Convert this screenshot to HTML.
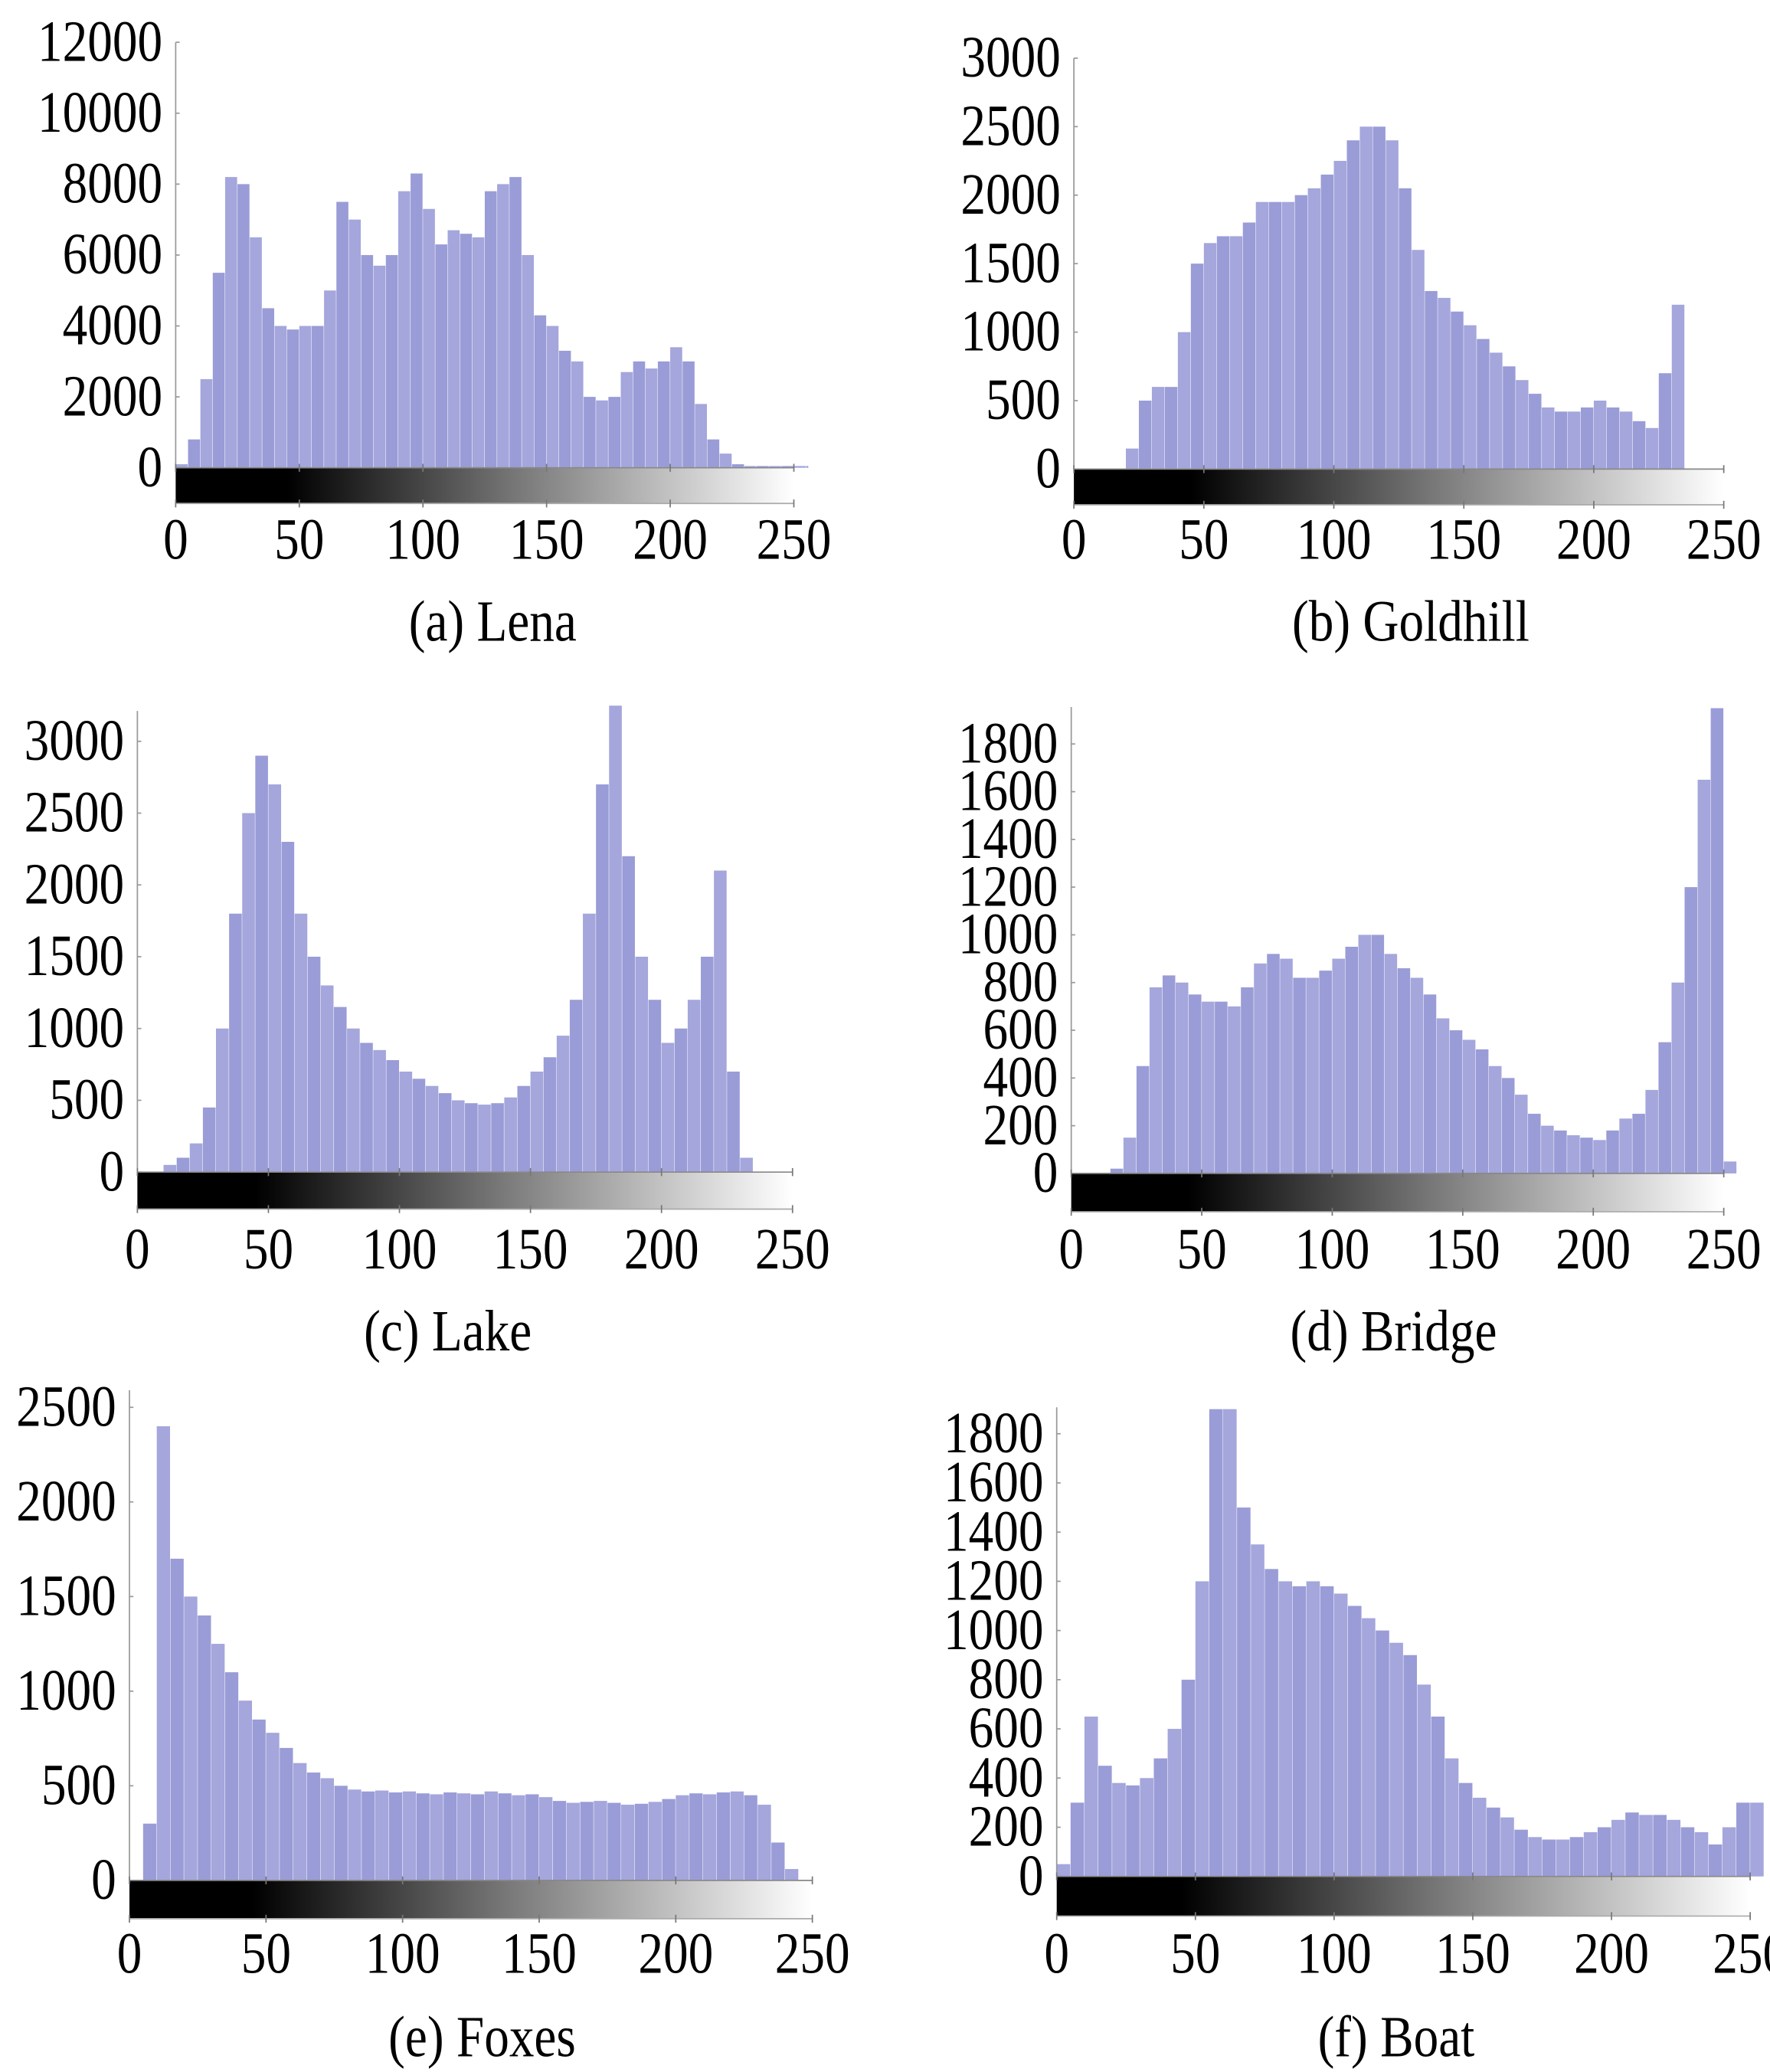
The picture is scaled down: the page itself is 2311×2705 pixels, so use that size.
<!DOCTYPE html>
<html><head><meta charset="utf-8"><style>
html,body{margin:0;padding:0;background:#fff;}
svg{display:block;}
text{font-family:"Liberation Serif",serif;fill:#000;}
</style></head>
<body>
<svg id="fig" width="2311" height="2705" viewBox="0 0 1340 1568" preserveAspectRatio="none" xmlns="http://www.w3.org/2000/svg">
<defs>
<linearGradient id="gray" x1="0" x2="1" y1="0" y2="0">
<stop offset="0" stop-color="#000"/><stop offset="0.18" stop-color="#000"/><stop offset="0.55" stop-color="#777"/><stop offset="1" stop-color="#fff"/>
</linearGradient>
</defs>
</svg>
<script>
// bins of width 5 gray levels: [0,5),[5,10),...,[255,256)
const binWidth = 5;
const lenaValues = [100,800,2500,5500,8200,8000,6500,4500,4000,3900,4000,4000,5000,7500,7000,6000,5700,6000,7800,8300,7300,6300,6700,6600,6500,7800,8000,8200,6000,4300,4000,3300,3000,2000,1900,2000,2700,3000,2800,3000,3400,3000,1800,800,400,100,50,50,50,50,50,50];
const goldhillValues = [0,0,0,0,150,500,600,600,1000,1500,1650,1700,1700,1800,1950,1950,1950,2000,2050,2150,2250,2400,2500,2500,2400,2050,1600,1300,1250,1150,1050,950,850,750,650,550,450,420,420,450,500,450,420,350,300,700,1200,0,0,0,0,0];
const lakeValues = [0,0,50,100,200,450,1000,1800,2500,2900,2700,2300,1800,1500,1300,1150,1000,900,850,780,700,650,600,550,500,480,470,480,520,600,700,800,950,1200,1800,2700,3250,2200,1500,1200,900,1000,1200,1500,2100,700,100,0,0,0,0,0];
const bridgeValues = [0,0,0,20,150,450,780,830,800,750,720,720,700,780,880,920,900,820,820,850,900,950,1000,1000,920,860,820,750,650,600,560,520,450,400,330,250,200,180,160,150,140,180,230,250,350,550,800,1200,1650,1950,50,0];
const foxesValues = [0,300,2400,1700,1500,1400,1250,1100,950,850,780,700,620,570,540,500,480,470,475,465,470,460,455,465,460,455,470,460,450,455,440,420,410,415,420,410,400,405,415,430,450,460,455,465,470,450,400,200,60,0,0,0];
const boatValues = [50,300,650,450,380,370,400,480,600,800,1200,1900,1900,1500,1350,1250,1200,1180,1200,1180,1150,1100,1050,1000,950,900,780,650,480,380,320,280,240,190,160,150,150,160,180,200,230,260,250,250,230,200,180,130,200,300,300,0];
const xTicks = [0,50,100,150,200,250];
const lenaTicks = [0,2000,4000,6000,8000,10000,12000];
const goldhillTicks = [0,500,1000,1500,2000,2500,3000];
const lakeTicks = [0,500,1000,1500,2000,2500,3000];
const bridgeTicks = [0,200,400,600,800,1000,1200,1400,1600,1800];
const foxesTicks = [0,500,1000,1500,2000,2500];
const boatTicks = [0,200,400,600,800,1000,1200,1400,1600,1800];
const captions = ["(a) Lena","(b) Goldhill","(c) Lake","(d) Bridge","(e) Foxes","(f) Boat"];

// layout (preview-space pixels)
const panels = [
 {name:"lena", data:lenaValues, ticks:lenaTicks, yMax:12000, x0:133,x1:601,yb:354,yt:32,axTop:32,cap:[373,470],gh:27,xl:408},
 {name:"goldhill", data:goldhillValues, ticks:goldhillTicks, yMax:3000, x0:813,x1:1305,yb:355,yt:44,axTop:44,cap:[1068,470],gh:27,xl:408},
 {name:"lake", data:lakeValues, ticks:lakeTicks, yMax:3000, x0:104,x1:600,yb:887,yt:561,axTop:538,cap:[339,1007],gh:28,xl:945},
 {name:"bridge", data:bridgeValues, ticks:bridgeTicks, yMax:1800, x0:811,x1:1305,yb:888,yt:563,axTop:535,cap:[1055,1007],gh:29,xl:945},
 {name:"foxes", data:foxesValues, ticks:foxesTicks, yMax:2500, x0:98,x1:615,yb:1423,yt:1065,axTop:1052,cap:[365,1541],gh:29,xl:1478},
 {name:"boat", data:boatValues, ticks:boatTicks, yMax:1800, x0:800,x1:1325,yb:1420,yt:1085,axTop:1065,cap:[1057,1541],gh:30,xl:1478}
];
const NS="http://www.w3.org/2000/svg";
const svg=document.getElementById('fig');
function mk(tag,attrs,parent){const e=document.createElementNS(NS,tag);for(const k in attrs)e.setAttribute(k,attrs[k]);parent.appendChild(e);return e;}
function txt(parent,x,y,anchor,size,str){
  const t=mk('text',{x:0,y:0,'text-anchor':anchor,'font-size':size,transform:'translate('+x+','+y+') scale(0.86,1)'},parent);
  t.textContent=str;
  return t;
}
panels.forEach((p,pi)=>{
  const g=mk('g',{},svg);
  
  
  const xs=v=>p.x0+(v/250)*(p.x1-p.x0);
  const ys=v=>p.yb-(v/p.yMax)*(p.yb-p.yt);
  p.data.forEach((v,i)=>{
    if(v<=0)return;
    const a=xs(i*binWidth), b=xs(Math.min(256,(i+1)*binWidth));
    let top=Math.max(ys(v),p.axTop-4);
    const r=mk('rect',{x:a,y:top,width:Math.max(0.5,b-a-0.3),height:p.yb-top,fill:(i%2?'#9a9cd7':'#a4a6dc')},g);
    
    
  });
  const ax=mk('line',{x1:p.x0,x2:p.x0,y1:p.axTop,y2:p.yb,stroke:'#999','stroke-width':1},g);
  
  
  p.ticks.forEach(t=>{
    mk('line',{x1:p.x0,x2:p.x0+3,y1:ys(t),y2:ys(t),stroke:'#999','stroke-width':1},g);
    const tx=txt(g,p.x0-10,ys(t)+14,'end',44,t);
    
    
  });
  const gr=mk('rect',{x:p.x0,y:p.yb,width:p.x1-p.x0,height:p.gh,fill:'url(#gray)'},g);
  
  
  mk('line',{x1:p.x0,x2:p.x1,y1:p.yb+p.gh,y2:p.yb+p.gh,stroke:'#aaa','stroke-width':1},g);
  mk('line',{x1:p.x0,x2:p.x1,y1:p.yb,y2:p.yb,stroke:'#888','stroke-width':1},g);
  xTicks.forEach(t=>{
    mk('line',{x1:xs(t),x2:xs(t),y1:p.yb-3,y2:p.yb+3,stroke:'#777','stroke-width':1},g);
    mk('line',{x1:xs(t),x2:xs(t),y1:p.yb+p.gh-3,y2:p.yb+p.gh+3,stroke:'#777','stroke-width':1},g);
    const tx=txt(g,xs(t),p.xl+15,'middle',44,t);
    
    
  });
  const c=txt(g,p.cap[0],p.cap[1]+15,'middle',44,captions[pi]);
  
  
});
</script>
</body></html>
